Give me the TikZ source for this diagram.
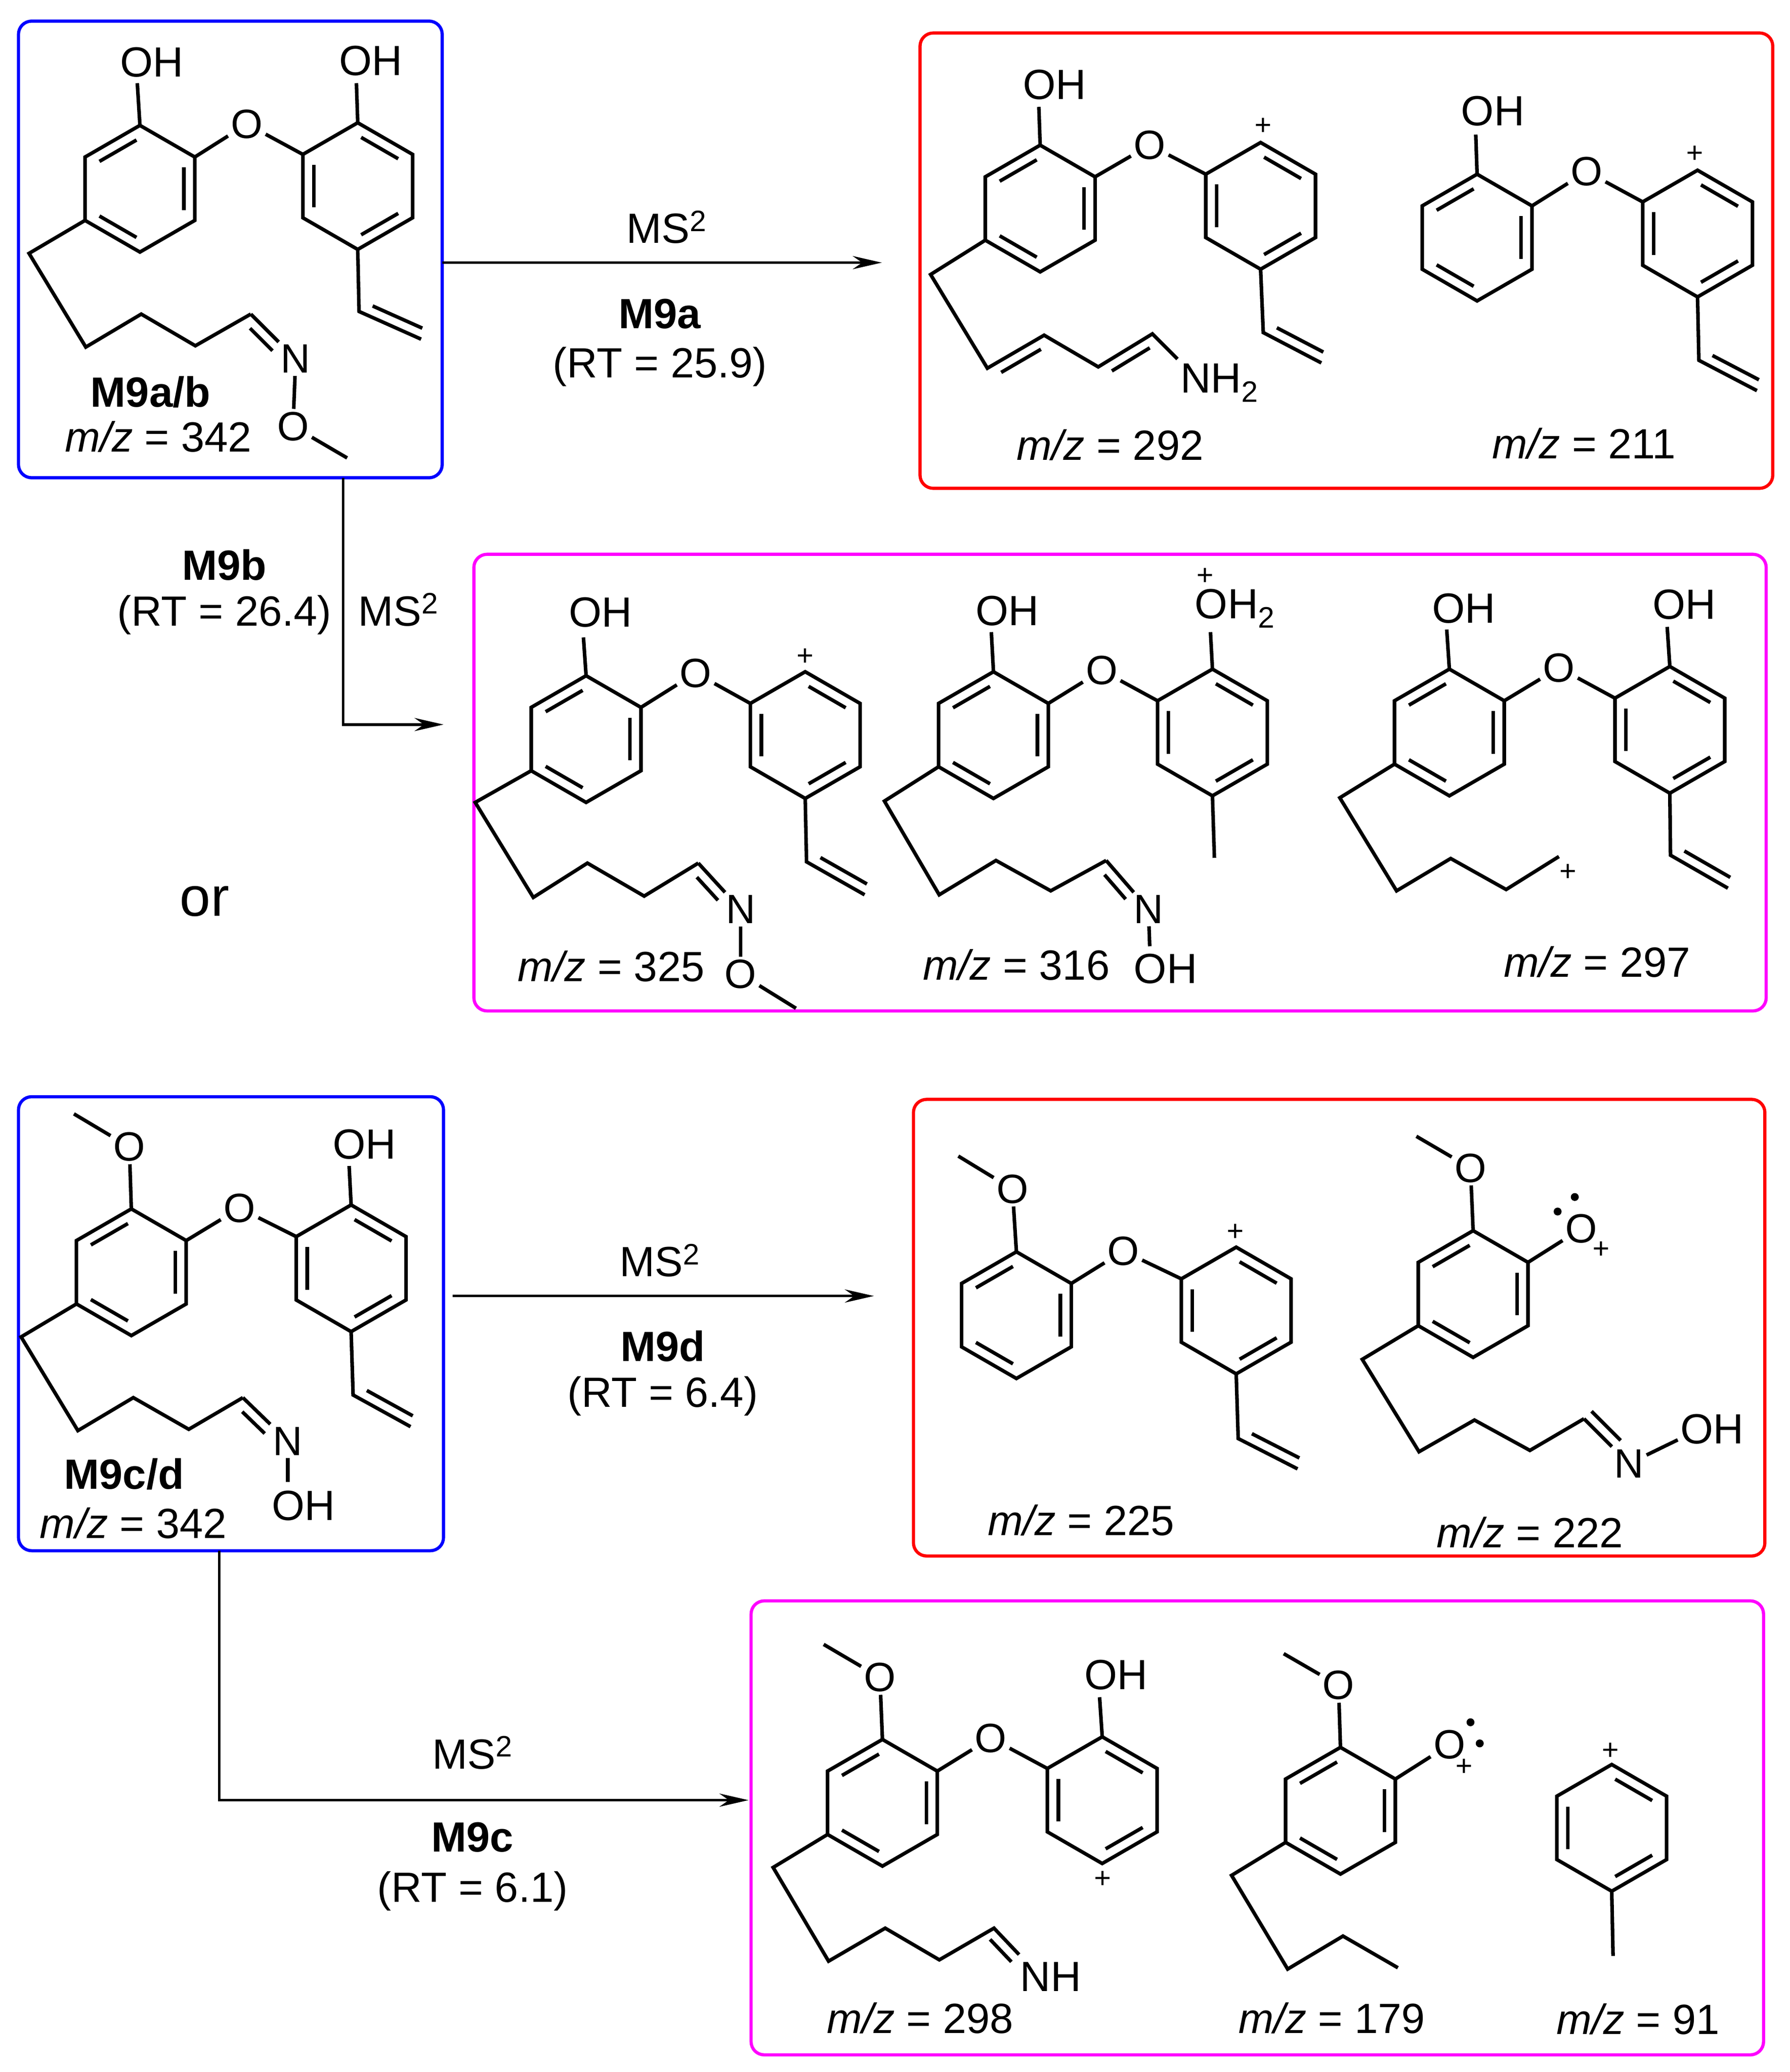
\documentclass[tikz,border=0pt]{standalone}
\usepackage{fontspec}
\setmainfont{Liberation Sans}
\usetikzlibrary{calc,arrows.meta}
\definecolor{mag}{RGB}{255,0,255}
\tikzset{
 bd/.style={line width=2.7pt},
 txt/.style={font=\fontsize{32}{36}\selectfont, inner sep=0pt},
 atm/.style={font=\fontsize{31}{35}\selectfont, inner sep=2pt},
 pl/.style={font=\fontsize{22}{24}\selectfont, inner sep=0pt},
 boxb/.style={line width=2.4pt, rounded corners=10pt},
 arr/.style={line width=2pt, -{Stealth[length=22pt,width=10pt]}}
}
\newcommand\hexr[3]{%
 \coordinate (#1-c) at (#2,#3);
 \coordinate (#1-1) at (#2,#3-48);
 \coordinate (#1-2) at (#2+41.57,#3-24);
 \coordinate (#1-3) at (#2+41.57,#3+24);
 \coordinate (#1-4) at (#2,#3+48);
 \coordinate (#1-5) at (#2-41.57,#3+24);
 \coordinate (#1-6) at (#2-41.57,#3-24);
 \draw[bd,line join=miter] (#1-1)--(#1-2)--(#1-3)--(#1-4)--(#1-5)--(#1-6)--cycle;}
\newcommand\inb[3]{\draw[bd,shorten <=3pt,shorten >=3pt] ($(#1-c)!0.8!(#1-#2)$) -- ($(#1-c)!0.8!(#1-#3)$);}
\newcommand\ringA[3]{\hexr{#1}{#2}{#3}\inb{#1}{6}{1}\inb{#1}{2}{3}\inb{#1}{4}{5}}
\newcommand\ringB[3]{\hexr{#1}{#2}{#3}\inb{#1}{1}{2}\inb{#1}{3}{4}\inb{#1}{5}{6}}
\newcommand\dbl[5]{\draw[bd] ($(#1)!#4!(#2)!#3!90:(#2)$) -- ($(#2)!#5!(#1)!#3!-90:(#1)$);}
\newcommand\mz[1]{\textit{m/z} = #1}
\begin{document}
\begin{tikzpicture}[x=1pt,y=-1pt]
\useasboundingbox (0,0) rectangle (1356,1570);
\fill[white] (0,0) rectangle (1356,1570);

% ===== Boxes =====
\draw[boxb,blue] (14,16) rectangle (335,362);
\draw[boxb,red] (697,25) rectangle (1343,370);
\draw[boxb,mag] (359,420) rectangle (1338,766);
\draw[boxb,blue] (14,831) rectangle (336,1175);
\draw[boxb,red] (692,833) rectangle (1337,1179);
\draw[boxb,mag] (569,1213) rectangle (1336,1557);

% ===== M9a/b =====
\ringA{a1L}{106}{143}\ringB{a1R}{271}{141}
\draw[bd] (a1L-1) -- (104,63); \node[txt] at (115,47) {OH};
\draw[bd] (a1R-1) -- (270,63); \node[txt] at (281,46) {OH};
\node[atm] (a1O) at (187,94) {O};
\draw[bd] (a1L-2) -- (a1O) -- (a1R-6);
\coordinate (a1v1) at (272,236); \coordinate (a1v2) at (319,257);
\draw[bd] (a1R-4) -- (a1v1) -- (a1v2); \dbl{a1v1}{a1v2}{8pt}{0.15}{0.05}
\coordinate (a1c1) at (22,192); \coordinate (a1c2) at (65,263); \coordinate (a1c3) at (107,238);
\coordinate (a1c4) at (148,262); \coordinate (a1c5) at (190,238);
\draw[bd] (a1L-5) -- (a1c1) -- (a1c2) -- (a1c3) -- (a1c4) -- (a1c5);
\node[atm] (a1N) at (224,272) {N};
\draw[bd] (a1c5) -- (a1N); \dbl{a1c5}{a1N}{-8pt}{0.15}{0.35}
\node[atm] (a1O2) at (222,323) {O};
\draw[bd] (a1N) -- (a1O2); \draw[bd] (a1O2) -- (263,347);
\node[txt] at (114,297) {\textbf{M9a/b}};
\node[txt] at (120,331) {\mz{342}};

% ===== m/z 292 =====
\ringA{b1L}{788}{158}\ringB{b1R}{955}{156}
\draw[bd] (b1L-1) -- (787,81); \node[txt] at (799,64) {OH};
\node[atm] (b1O) at (871,110) {O};
\draw[bd] (b1L-2) -- (b1O) -- (b1R-6);
\node[pl] at (957,96) {+};
\coordinate (b1v1) at (957,252); \coordinate (b1v2) at (1001,275);
\draw[bd] (b1R-4) -- (b1v1) -- (b1v2); \dbl{b1v1}{b1v2}{8pt}{0.15}{0.05}
\coordinate (b1c1) at (705,208); \coordinate (b1c2) at (748,279); \coordinate (b1c3) at (791,254);
\coordinate (b1c4) at (832,278); \coordinate (b1c5) at (873,253); \coordinate (b1c6) at (892,272);
\draw[bd] (b1L-5) -- (b1c1) -- (b1c2) -- (b1c3) -- (b1c4) -- (b1c5) -- (b1c6);
\dbl{b1c2}{b1c3}{-8pt}{0.15}{0.15}\dbl{b1c4}{b1c5}{-8pt}{0.15}{0.15}
\node[txt,anchor=west] at (894,290) {NH\textsubscript{2}};
\node[txt] at (841,337) {\mz{292}};

% ===== m/z 211 =====
\ringA{b2L}{1119}{180}\ringB{b2R}{1286}{177}
\draw[bd] (b2L-1) -- (1118,102); \node[txt] at (1131,84) {OH};
\node[atm] (b2O) at (1202,130) {O};
\draw[bd] (b2L-2) -- (b2O) -- (b2R-6);
\node[pl] at (1284,117) {+};
\coordinate (b2v1) at (1287,273); \coordinate (b2v2) at (1331,296);
\draw[bd] (b2R-4) -- (b2v1) -- (b2v2); \dbl{b2v1}{b2v2}{8pt}{0.15}{0.05}
\node[txt] at (1200,336) {\mz{211}};

% ===== m/z 325 =====
\ringA{c1L}{444}{560}\ringB{c1R}{610}{557}
\draw[bd] (c1L-1) -- (442,483); \node[txt] at (455,464) {OH};
\node[atm] (c1O) at (527,510) {O};
\draw[bd] (c1L-2) -- (c1O) -- (c1R-6);
\node[pl] at (610,498) {+};
\coordinate (c1v1) at (611,653); \coordinate (c1v2) at (655,678);
\draw[bd] (c1R-4) -- (c1v1) -- (c1v2); \dbl{c1v1}{c1v2}{8pt}{0.15}{0.05}
\coordinate (c1c1) at (360,608); \coordinate (c1c2) at (404,680); \coordinate (c1c3) at (445,654);
\coordinate (c1c4) at (488,679); \coordinate (c1c5) at (529,654);
\draw[bd] (c1L-5) -- (c1c1) -- (c1c2) -- (c1c3) -- (c1c4) -- (c1c5);
\node[atm] (c1N) at (561,689) {N};
\draw[bd] (c1c5) -- (c1N); \dbl{c1c5}{c1N}{-8pt}{0.15}{0.35}
\node[atm] (c1O2) at (561,738) {O};
\draw[bd] (c1N) -- (c1O2); \draw[bd] (c1O2) -- (603,764);
\node[txt] at (463,732) {\mz{325}};

% ===== m/z 316 =====
\ringA{c2L}{752.6}{557}\ringB{c2R}{918.5}{555}
\draw[bd] (c2L-1) -- (751,479); \node[txt] at (763,463) {OH};
\node[atm] (c2O) at (834.6,508) {O};
\draw[bd] (c2L-2) -- (c2O) -- (c2R-6);
\draw[bd] (c2R-1) -- (917,479); \node[txt,anchor=west] at (905,461) {OH\textsubscript{2}};
\node[pl] at (913,437) {+};
\draw[bd] (c2R-4) -- (920,650);
\coordinate (c2c1) at (670,607); \coordinate (c2c2) at (711.5,678); \coordinate (c2c3) at (754.5,652);
\coordinate (c2c4) at (796,675); \coordinate (c2c5) at (838,652);
\draw[bd] (c2L-5) -- (c2c1) -- (c2c2) -- (c2c3) -- (c2c4) -- (c2c5);
\node[atm] (c2N) at (870,689) {N};
\draw[bd] (c2c5) -- (c2N); \dbl{c2c5}{c2N}{-8pt}{0.15}{0.35}
\draw[bd] (c2N) -- (871,717); \node[txt] at (883,734) {OH};
\node[txt] at (770,731) {\mz{316}};

% ===== m/z 297 =====
\ringA{c3L}{1098}{555}\ringB{c3R}{1265}{553}
\draw[bd] (c3L-1) -- (1096,477); \node[txt] at (1109,461) {OH};
\draw[bd] (c3R-1) -- (1263,475); \node[txt] at (1276,458) {OH};
\node[atm] (c3O) at (1181,506) {O};
\draw[bd] (c3L-2) -- (c3O) -- (c3R-6);
\coordinate (c3v1) at (1265.5,648); \coordinate (c3v2) at (1309,673);
\draw[bd] (c3R-4) -- (c3v1) -- (c3v2); \dbl{c3v1}{c3v2}{8pt}{0.15}{0.05}
\draw[bd] (c3L-5) -- (1015,604.5) -- (1058,675) -- (1099,650.5) -- (1141,674) -- (1181,649);
\node[pl] at (1188,661) {+};
\node[txt] at (1210,729) {\mz{297}};

% ===== M9c/d =====
\ringA{dL}{99.5}{964}\ringB{dR}{266}{961}
\node[atm] (dOm) at (98,869) {O};
\draw[bd] (dL-1) -- (dOm); \draw[bd] (dOm) -- (56,844);
\node[atm] (dO) at (181.5,915.5) {O};
\draw[bd] (dL-2) -- (dO) -- (dR-6);
\draw[bd] (dR-1) -- (264.5,883.5); \node[txt] at (276,867) {OH};
\coordinate (dv1) at (267.5,1057); \coordinate (dv2) at (311,1081);
\draw[bd] (dR-4) -- (dv1) -- (dv2); \dbl{dv1}{dv2}{8pt}{0.15}{0.05}
\coordinate (dc1) at (16,1013); \coordinate (dc2) at (59,1084); \coordinate (dc3) at (101,1059);
\coordinate (dc4) at (143,1083); \coordinate (dc5) at (184,1059);
\draw[bd] (dL-5) -- (dc1) -- (dc2) -- (dc3) -- (dc4) -- (dc5);
\node[atm] (dN) at (218,1092) {N};
\draw[bd] (dc5) -- (dN); \dbl{dc5}{dN}{-8pt}{0.15}{0.35}
\draw[bd] (dN) -- (218,1123); \node[txt] at (230,1141) {OH};
\node[txt] at (94,1117) {\textbf{M9c/d}};
\node[txt] at (101,1154) {\mz{342}};

% ===== m/z 225 =====
\ringA{eL}{770}{996.5}\ringB{eR}{936.5}{993}
\node[atm] (eOm) at (767,901) {O};
\draw[bd] (eL-1) -- (eOm); \draw[bd] (eOm) -- (726,876);
\node[atm] (eO) at (851,948) {O};
\draw[bd] (eL-2) -- (eO) -- (eR-6);
\node[pl] at (936,934) {+};
\coordinate (ev1) at (938,1090); \coordinate (ev2) at (983,1113);
\draw[bd] (eR-4) -- (ev1) -- (ev2); \dbl{ev1}{ev2}{8pt}{0.15}{0.05}
\node[txt] at (819,1152) {\mz{225}};

% ===== m/z 222 =====
\ringA{fL}{1116}{980.5}
\node[atm] (fOm) at (1114,885) {O};
\draw[bd] (fL-1) -- (fOm); \draw[bd] (fOm) -- (1073,861);
\node[atm] (fO) at (1198,931) {O};
\draw[bd] (fL-2) -- (fO);
\fill (1180,918) circle (3); \fill (1193,907) circle (3);
\node[pl] at (1213,947) {+};
\coordinate (fc1) at (1032,1030); \coordinate (fc2) at (1075,1100); \coordinate (fc3) at (1117,1076);
\coordinate (fc4) at (1159,1099); \coordinate (fc5) at (1200,1075);
\draw[bd] (fL-5) -- (fc1) -- (fc2) -- (fc3) -- (fc4) -- (fc5);
\node[atm] (fN) at (1234,1109) {N};
\draw[bd] (fc5) -- (fN); \dbl{fc5}{fN}{8pt}{0.0}{0.35}
\draw[bd] (fN) -- (1271,1091); \node[txt] at (1297,1083) {OH};
\node[txt] at (1159,1161) {\mz{222}};

% ===== m/z 298 =====
\ringA{gL}{668.5}{1366}\ringB{gR}{835}{1364}
\node[atm] (gOm) at (666.6,1271) {O};
\draw[bd] (gL-1) -- (gOm); \draw[bd] (gOm) -- (624,1246);
\node[atm] (gO) at (750.6,1317) {O};
\draw[bd] (gL-2) -- (gO) -- (gR-6);
\draw[bd] (gR-1) -- (833,1286); \node[txt] at (845.5,1269) {OH};
\node[pl] at (835.5,1424) {+};
\coordinate (gc1) at (585.7,1415); \coordinate (gc2) at (627.7,1486); \coordinate (gc3) at (670.6,1461);
\coordinate (gc4) at (711.6,1485); \coordinate (gc5) at (753,1461); \coordinate (gc6) at (772,1481);
\draw[bd] (gL-5) -- (gc1) -- (gc2) -- (gc3) -- (gc4) -- (gc5) -- (gc6);
\dbl{gc5}{gc6}{-8pt}{0.15}{0.0}
\node[txt] at (796,1498) {NH};
\node[txt] at (697,1529) {\mz{298}};

% ===== m/z 179 =====
\ringA{hL}{1015.5}{1372}
\node[atm] (hOm) at (1014,1277) {O};
\draw[bd] (hL-1) -- (hOm); \draw[bd] (hOm) -- (972.5,1253);
\node[atm] (hO) at (1098,1322) {O};
\draw[bd] (hL-2) -- (hO);
\fill (1114,1305) circle (3); \fill (1121,1321) circle (3);
\node[pl] at (1109,1339) {+};
\draw[bd] (hL-5) -- (933,1421) -- (975.5,1492) -- (1017.4,1467) -- (1059,1491);
\node[txt] at (1009,1529) {\mz{179}};

% ===== m/z 91 =====
\ringB{iR}{1221}{1385}
\node[pl] at (1220,1327) {+};
\draw[bd] (iR-4) -- (1222,1482);
\node[txt] at (1241,1530) {\mz{91}};

% ===== Connectors =====
\coordinate (A1s) at (335,199); \coordinate (A1e) at (668,199);
\draw[arr] (A1s) -- (A1e);
\node[txt] at (505,172) {MS\textsuperscript{2}};
\node[txt] at (500,238) {\textbf{M9a}};
\node[txt] at (500,278) {(RT = 25.9)};

\coordinate (A2s) at (260,362); \coordinate (A2k) at (260,549); \coordinate (A2e) at (336,549);
\draw[arr] (A2s) -- (A2k) -- (A2e);
\node[txt] at (170,428) {\textbf{M9b}};
\node[txt] at (170,466) {(RT = 26.4)};
\node[txt] at (302,462) {MS\textsuperscript{2}};

\node[font=\fontsize{42}{46}\selectfont,inner sep=0pt] at (155,683) {or};

\coordinate (A3s) at (343,982); \coordinate (A3e) at (662,982);
\draw[arr] (A3s) -- (A3e);
\node[txt] at (500,955) {MS\textsuperscript{2}};
\node[txt] at (502,1020) {\textbf{M9d}};
\node[txt] at (502,1058) {(RT = 6.4)};

\coordinate (A4s) at (166,1175); \coordinate (A4k) at (166,1364); \coordinate (A4e) at (567,1364);
\draw[arr] (A4s) -- (A4k) -- (A4e);
\node[txt] at (358,1328) {MS\textsuperscript{2}};
\node[txt] at (358,1392) {\textbf{M9c}};
\node[txt] at (358,1433) {(RT = 6.1)};
\end{tikzpicture}
\end{document}
